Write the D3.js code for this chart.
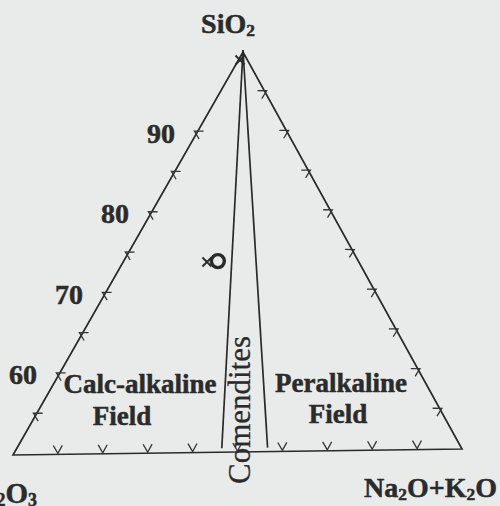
<!DOCTYPE html>
<html>
<head>
<meta charset="utf-8">
<script src="https://cdn.jsdelivr.net/npm/d3@7"></script>
<style>
  html, body { margin: 0; padding: 0; background: #e8ebea; }
  svg { display: block; }
  text { font-family: "Liberation Serif", "Times New Roman", serif; fill: #2b2b2b; }
  text.heavy { stroke: #2b2b2b; stroke-width: 0.5px; }
</style>
</head>
<body>
<script>
// SiO2 scale (apex = 100, base = 50)
const siTicksLeft = [55, 60, 65, 70, 75, 80, 85, 90];
const siTicksRight = [55, 60, 65, 70, 75, 80, 85, 90, 95];
const siLabels = [60, 70, 80, 90];
// alkali share along the base, percent of (Al2O3 + Na2O+K2O)
const baseTicks = [10, 20, 30, 40, 50, 60, 70, 80, 90];
// boundary lines of the comendite wedge
const comenditeBounds = [46.5, 56.7];
// plotted samples
const sampleSi = [73.9, 73.8, 99];
const sampleAlk = [40.5, 35.9, 18];
const sampleSymbol = ["circle", "cross", "cross"];

const W = 500, H = 506;
const svg = d3.select("body").append("svg").attr("width", W).attr("height", H);

// triangle corners: Al2O3 (left), Na2O+K2O (right), SiO2 (apex)
const corner = { L: [13, 455], R: [462, 449], T: [243, 52] };

const siScale = d3.scaleLinear().domain([50, 100]).range([0, 1]);
const baseX = d3.scaleLinear().domain([0, 100]).range([corner.L[0], corner.R[0]]);
const baseY = d3.scaleLinear().domain([0, 100]).range([corner.L[1], corner.R[1]]);

function project(si, alk) {
  const c = siScale(si), bx = baseX(alk), by = baseY(alk);
  return [bx + c * (corner.T[0] - bx), by + c * (corner.T[1] - by)];
}

const ink = "#2a2a2a";
const line = d3.line();

// outline
svg.append("path")
  .attr("d", line([project(50, 0), project(100, 0), project(50, 100)]) + "Z")
  .attr("fill", "none").attr("stroke", ink).attr("stroke-width", 1.7)
  .attr("stroke-linejoin", "miter");

// comendite wedge
svg.selectAll("line.com").data(comenditeBounds).join("line")
  .attr("class", "com")
  .attr("x1", d => project(100, d)[0]).attr("y1", d => project(100, d)[1] - 2)
  .attr("x2", d => project(50, d)[0]).attr("y2", d => project(50, d)[1] - 4)
  .attr("stroke", ink).attr("stroke-width", 1.7);

// chevron ticks: vertex on the edge, arms pointing into the triangle
function chevron(p, q, out) {
  const dx = q[0] - p[0], dy = q[1] - p[1], len = Math.hypot(dx, dy);
  const t = [dx / len, dy / len];
  return function(pt, vOff, armIn, spread) {
    const v = [pt[0] + out[0] * vOff, pt[1] + out[1] * vOff];
    const a = [pt[0] - out[0] * armIn + t[0] * spread, pt[1] - out[1] * armIn + t[1] * spread];
    const b = [pt[0] - out[0] * armIn - t[0] * spread, pt[1] - out[1] * armIn - t[1] * spread];
    return line([a, v, b]);
  };
}
function normalOut(p, q, inside) {
  const dx = q[0] - p[0], dy = q[1] - p[1], len = Math.hypot(dx, dy);
  let n = [-dy / len, dx / len];
  const mid = [(p[0] + q[0]) / 2, (p[1] + q[1]) / 2];
  if ((inside[0] - mid[0]) * n[0] + (inside[1] - mid[1]) * n[1] > 0) n = [-n[0], -n[1]];
  return n;
}
const centroid = project(66, 50);
const leftEdge = [project(50, 0), project(100, 0)];
const rightEdge = [project(50, 100), project(100, 100)];
const baseEdge = [project(50, 0), project(50, 100)];
const leftChev = chevron(...leftEdge, normalOut(...leftEdge, centroid));
const rightChev = chevron(...rightEdge, normalOut(...rightEdge, centroid));
const baseChev = chevron(...baseEdge, normalOut(...baseEdge, centroid));

const tickStyle = s => s.attr("fill", "none").attr("stroke", "#353535").attr("stroke-width", 1.3);

svg.selectAll("path.lt").data(siTicksLeft).join("path").attr("class", "lt")
  .attr("d", d => leftChev(project(d, 0), 3, 5, 4.5)).call(tickStyle);
svg.selectAll("path.rt").data(siTicksRight).join("path").attr("class", "rt")
  .attr("d", d => rightChev(project(d, 100), 2, 6, 4.5)).call(tickStyle);
svg.selectAll("path.bt").data(baseTicks).join("path").attr("class", "bt")
  .attr("d", d => baseChev(project(50, d), -1, 9, 4.5)).call(tickStyle);

// SiO2 labels along the left edge
svg.selectAll("text.si").data(siLabels).join("text").attr("class", "si heavy")
  .attr("x", d => project(d, 0)[0] - 22)
  .attr("y", d => project(d, 0)[1] + 10)
  .attr("text-anchor", "end").attr("font-size", 28).attr("font-weight", "bold")
  .text(d => d);

// samples
sampleSi.forEach((si, i) => {
  const [x, y] = project(si, sampleAlk[i]);
  if (sampleSymbol[i] === "circle") {
    svg.append("circle").attr("cx", x).attr("cy", y).attr("r", 6.5)
      .attr("fill", "none").attr("stroke", ink).attr("stroke-width", 3.4);
  } else {
    const s = 4.5;
    svg.append("path")
      .attr("d", `M${x - s},${y - s}L${x + s},${y + s}M${x - s},${y + s}L${x + s},${y - s}`)
      .attr("stroke", ink).attr("stroke-width", 1.9).attr("fill", "none");
  }
});

// formula labels with lowered, smaller subscripts
function formula(sel, parts) {
  let shift = 0;
  parts.forEach(([str, sub]) => {
    const ts = sel.append("tspan").text(str);
    const target = sub ? 3 : 0;
    if (target !== shift) ts.attr("dy", target - shift);
    if (sub) ts.attr("font-size", "0.62em");
    shift = target;
  });
  return sel;
}
const bold = t => t.attr("font-weight", "bold").attr("class", "heavy");

formula(svg.append("text").attr("x", 228).attr("y", 33).attr("text-anchor", "middle")
  .attr("font-size", 28).call(bold), [["Si"], ["O"], ["2", true]]);

formula(svg.append("text").attr("x", 497).attr("y", 497).attr("text-anchor", "end")
  .attr("font-size", 28).call(bold), [["Na"], ["2", true], ["O+K"], ["2", true], ["O"]]);

formula(svg.append("text").attr("x", 37).attr("y", 503).attr("text-anchor", "end")
  .attr("font-size", 29).call(bold), [["Al"], ["2", true], ["O"], ["3", true]]);

// field names
const fieldText = [
  ["Calc-alkaline", 140, 393], ["Field", 122, 425],
  ["Peralkaline", 341, 392], ["Field", 338, 423]
];
svg.selectAll("text.field").data(fieldText).join("text").attr("class", "field heavy")
  .attr("x", d => d[1]).attr("y", d => d[2]).attr("text-anchor", "middle")
  .attr("font-size", 27).attr("font-weight", "bold").text(d => d[0]);

svg.append("text")
  .attr("transform", "translate(250,410) rotate(-90)")
  .attr("text-anchor", "middle").attr("font-size", 31)
  .attr("stroke", "#2b2b2b").attr("stroke-width", 0.3)
  .text("Comendites");
</script>
</body>
</html>
